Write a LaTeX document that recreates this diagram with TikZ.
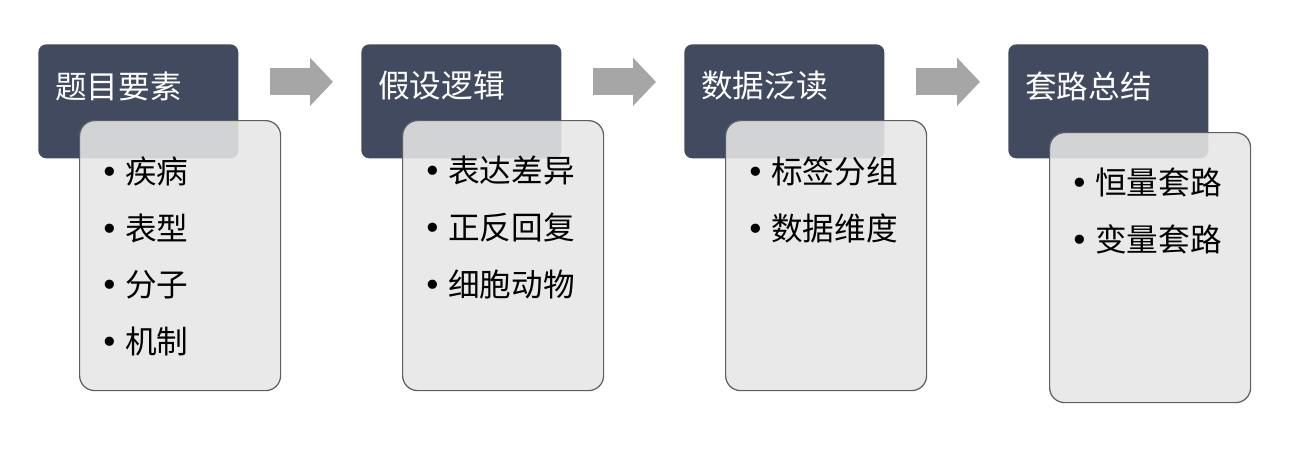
\documentclass[tikz,border=0pt]{standalone}
\usepackage{fontspec}
\newfontfamily\cjk{Noto Sans CJK SC}
\newfontfamily\dotfont{DejaVu Sans}
\usepackage{xcolor}
\usepackage{tikz}
\usetikzlibrary{arrows.meta,positioning}

\definecolor{headbg}{HTML}{414A5E}
\definecolor{bodybg}{HTML}{E6E6E6}
\definecolor{bodyline}{HTML}{5F5F5F}
\definecolor{arrowgray}{HTML}{A6A6A6}

\newcommand{\bul}[1]{\makebox[0.5cm][l]{\dotfont •}#1}

\begin{document}
\begin{tikzpicture}[
  head/.style={fill=headbg, rounded corners=0.16cm, minimum width=4cm,
               minimum height=2.28cm, anchor=north west, inner sep=0pt},
  body/.style={draw=bodyline, line width=0.7pt, fill=bodybg, fill opacity=0.88,
               rounded corners=0.3cm, minimum width=4.02cm,
               minimum height=5.4cm, anchor=north west, inner sep=0pt},
  headtxt/.style={text=white, font=\cjk\fontsize{18}{22}\selectfont,
                  inner sep=0pt, anchor=west},
  list/.style={text=black, font=\cjk\fontsize{18}{32.4}\selectfont,
               align=left, inner sep=0pt, anchor=north west},
  flow/.style={arrowgray, line width=0.54cm, shorten <=0.62cm, shorten >=0.56cm,
               -{Triangle[length=0.46cm 0, width=0.94cm 0]}},
]
  \useasboundingbox (0,0) rectangle (26.2,-9);

  % header boxes
  \node[head] (h1) at (0.76,-0.88) {};
  \node[head] (h2) at (7.22,-0.88) {};
  \node[head] (h3) at (13.68,-0.88) {};
  \node[head] (h4) at (20.16,-0.88) {};

  % content boxes
  \node[body] (b1) at ([xshift=0.82cm, yshift=-1.52cm]h1.north west) {};
  \node[body] (b2) at ([xshift=0.82cm, yshift=-1.52cm]h2.north west) {};
  \node[body] (b3) at ([xshift=0.82cm, yshift=-1.52cm]h3.north west) {};
  \node[body] (b4) at ([xshift=0.82cm, yshift=-1.76cm]h4.north west) {};

  % titles
  \node[headtxt] (t1) at ([xshift=0.34cm, yshift=-0.84cm]h1.north west) {题目要素};
  \node[headtxt] (t2) at ([xshift=0.34cm, yshift=-0.84cm]h2.north west) {假设逻辑};
  \node[headtxt] (t3) at ([xshift=0.34cm, yshift=-0.84cm]h3.north west) {数据泛读};
  \node[headtxt] (t4) at ([xshift=0.34cm, yshift=-0.84cm]h4.north west) {套路总结};

  % bullet lists
  \node[list] (l1) at ([xshift=0.42cm, yshift=-0.72cm]b1.north west)
    {\bul{疾病}\\\bul{表型}\\\bul{分子}\\\bul{机制}};
  \node[list] (l2) at ([xshift=0.42cm, yshift=-0.72cm]b2.north west)
    {\bul{表达差异}\\\bul{正反回复}\\\bul{细胞动物}};
  \node[list] (l3) at ([xshift=0.42cm, yshift=-0.72cm]b3.north west)
    {\bul{标签分组}\\\bul{数据维度}};
  \node[list] (l4) at ([xshift=0.42cm, yshift=-0.72cm]b4.north west)
    {\bul{恒量套路}\\\bul{变量套路}};

  % arrows
  \draw[flow] ([yshift=0.39cm]h1.east) -- ([yshift=0.39cm]h2.west);
  \draw[flow] ([yshift=0.39cm]h2.east) -- ([yshift=0.39cm]h3.west);
  \draw[flow] ([yshift=0.39cm]h3.east) -- ([yshift=0.39cm]h4.west);
\end{tikzpicture}
\end{document}
